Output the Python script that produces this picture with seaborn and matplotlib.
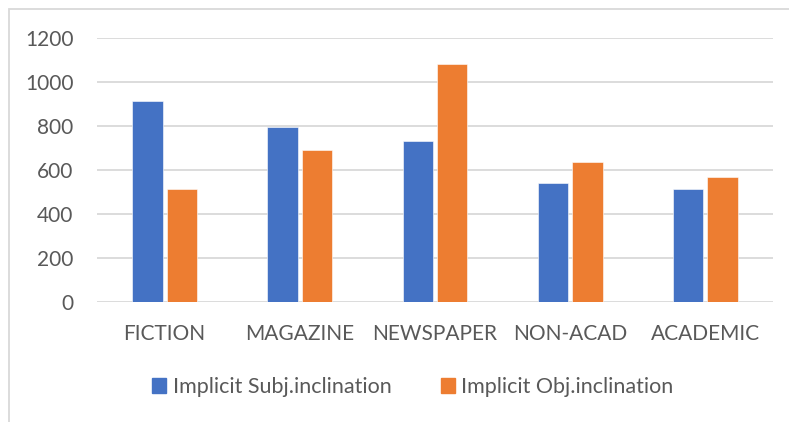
import numpy as np
import pandas as pd
import matplotlib
matplotlib.use("Agg")
import matplotlib.pyplot as plt
import seaborn as sns
from matplotlib.patches import Patch, Rectangle

# values
genres = ["FICTION", "MAGAZINE", "NEWSPAPER", "NON-ACAD", "ACADEMIC"]
subj_incl = [911, 795, 729, 538, 511]
obj_incl = [511, 691, 1079, 635, 565]
series_names = ["Implicit Subj.inclination", "Implicit Obj.inclination"]
colors = ["#4472C4", "#ED7D31"]

df = pd.DataFrame({
    "genre": genres * 2,
    "series": [series_names[0]] * len(genres) + [series_names[1]] * len(genres),
    "count": subj_incl + obj_incl,
})

sns.set_style("white")
plt.rcParams["font.family"] = ["Lato", "DejaVu Sans"]
text_col = "#595959"
grid_col = "#d9d9d9"

fig = plt.figure(figsize=(7.89, 4.22), dpi=100)
ax = fig.add_axes([97 / 789, 1 - 301.7 / 422, 676 / 789, 264 / 422])

sns.barplot(data=df, x="genre", y="count", hue="series", palette=colors,
            width=0.51, gap=0.12, ax=ax, legend=False, saturation=1,
            edgecolor="white", linewidth=0.4)

ax.set_ylim(0, 1200)
ax.set_xlim(-0.5, len(genres) - 0.5)
ax.set_yticks(np.arange(0, 1201, 200))
ax.yaxis.grid(True, color=grid_col, linewidth=1.3)
ax.set_axisbelow(True)
for s in ax.spines.values():
    s.set_visible(False)
ax.set_xlabel("")
ax.set_ylabel("")
ax.tick_params(axis="both", length=0, labelsize=15, colors=text_col)
ax.tick_params(axis="y", pad=17)
ax.tick_params(axis="x", pad=16)

# light frame around the chart area
fig.patches.append(Rectangle((9 / 789, -0.05), 1.2, 1 - 9 / 422 + 0.05,
                             transform=fig.transFigure, fill=False,
                             edgecolor=grid_col, linewidth=1.3))

handles = [Patch(facecolor=c, edgecolor=c) for c in colors]
leg = fig.legend(handles, series_names, loc="center",
                 bbox_to_anchor=(413 / 789, 1 - 387 / 422), ncol=2,
                 frameon=False, fontsize=15.5, handlelength=0.65,
                 handleheight=0.65, handletextpad=0.3, columnspacing=2.3)
for t in leg.get_texts():
    t.set_color(text_col)

fig.savefig("out.png", dpi=100)
